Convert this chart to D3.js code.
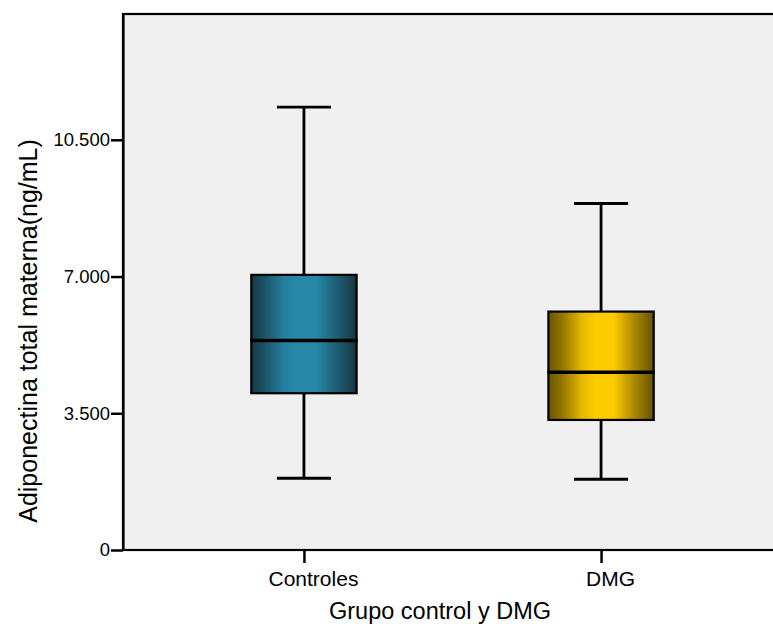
<!DOCTYPE html>
<html>
<head>
<meta charset="utf-8">
<script src="https://cdn.jsdelivr.net/npm/d3@7"></script>
<style>
html,body{margin:0;padding:0;background:#fff;}
svg{display:block;font-family:Arial,"Liberation Sans",sans-serif;}
</style>
</head>
<body>
<svg id="chart" width="773" height="624"></svg>
<script>
// Data
const categories = ["Controles", "DMG"];
const whiskerLow  = [1836, 1811];
const q1          = [4013, 3329];
const median      = [5360, 4551];
const q3          = [7043, 6103];
const whiskerHigh = [11337, 8869];
const yTicks = [0, 3500, 7000, 10500];
const yTickLabels = ["0", "3.500", "7.000", "10.500"];
const xTitle = "Grupo control y DMG";
const yTitle = "Adiponectina total materna(ng/mL)";

const svg = d3.select("#chart");
const pL = 123, pR = 782, pT = 14, pB = 550;

const x = d3.scalePoint().domain(categories).range([pL, pR]).padding(0.609);
const y = d3.scaleLinear().domain([0, 13720]).range([pB, pT]);
const step = x.step();
const boxW = step * 0.3545;
const capW = step * 0.182;

// gradients
const defs = svg.append("defs");
const gradStops = [
  [["0%","#163b48"],["12%","#1c5366"],["32%","#2482a1"],["45%","#2789a9"],["62%","#2687a7"],["80%","#1f6178"],["100%","#153640"]],
  [["0%","#6a5500"],["12%","#8f7200"],["32%","#e6b800"],["45%","#ffcc00"],["62%","#fdca00"],["80%","#b08c00"],["100%","#665200"]]
];
gradStops.forEach((stops, i) => {
  const g = defs.append("linearGradient").attr("id", "g" + i)
    .attr("x1", "0%").attr("x2", "100%").attr("y1", "0%").attr("y2", "0%");
  stops.forEach(s => g.append("stop").attr("offset", s[0]).attr("stop-color", s[1]));
});

// plot background
svg.append("rect").attr("x", pL).attr("y", pT)
  .attr("width", pR - pL).attr("height", pB - pT)
  .attr("fill", "#f0f0f0").attr("stroke", "#000").attr("stroke-width", 2.2);

// y axis
const yAxis = d3.axisLeft(y).tickValues(yTicks)
  .tickFormat((d, i) => yTickLabels[i]).tickSizeInner(12).tickSizeOuter(0).tickPadding(1);
const ga = svg.append("g").attr("transform", `translate(${pL},0)`).call(yAxis);
ga.select(".domain").attr("stroke", "#000").attr("stroke-width", 2.2);
ga.selectAll(".tick line").attr("stroke", "#000").attr("stroke-width", 2.5);
ga.selectAll(".tick text").attr("font-size", 18.5).attr("fill", "#000")
  .attr("font-family", "Arial, 'Liberation Sans', sans-serif");

// x axis
const xAxis = d3.axisBottom(x).tickSizeInner(13).tickSizeOuter(0).tickPadding(8);
const gx = svg.append("g").attr("transform", `translate(0,${pB})`).call(xAxis);
gx.select(".domain").attr("stroke", "#000").attr("stroke-width", 2.2)
  .attr("d", `M${pL},0H${pR}`);
gx.selectAll(".tick line").attr("stroke", "#000").attr("stroke-width", 2.5);
gx.selectAll(".tick text").attr("font-size", 21).attr("fill", "#000").attr("dx", 9)
  .attr("font-family", "Arial, 'Liberation Sans', sans-serif");

// boxes
categories.forEach((c, i) => {
  const cx = x(c);
  const g = svg.append("g");
  g.append("line").attr("x1", cx).attr("x2", cx)
    .attr("y1", y(whiskerHigh[i])).attr("y2", y(q3[i]))
    .attr("stroke", "#000").attr("stroke-width", 2.8);
  g.append("line").attr("x1", cx).attr("x2", cx)
    .attr("y1", y(q1[i])).attr("y2", y(whiskerLow[i]))
    .attr("stroke", "#000").attr("stroke-width", 2.8);
  [whiskerHigh[i], whiskerLow[i]].forEach(v => {
    g.append("line").attr("x1", cx - capW / 2).attr("x2", cx + capW / 2)
      .attr("y1", y(v)).attr("y2", y(v))
      .attr("stroke", "#000").attr("stroke-width", 2.8);
  });
  g.append("rect").attr("x", cx - boxW / 2).attr("y", y(q3[i]))
    .attr("width", boxW).attr("height", y(q1[i]) - y(q3[i]))
    .attr("fill", `url(#g${i})`).attr("stroke", "#000").attr("stroke-width", 2.2);
  g.append("line").attr("x1", cx - boxW / 2 - 1).attr("x2", cx + boxW / 2 + 1)
    .attr("y1", y(median[i])).attr("y2", y(median[i]))
    .attr("stroke", "#000").attr("stroke-width", 3.5);
});

// axis titles
svg.append("text").attr("x", 440).attr("y", 619).attr("text-anchor", "middle")
  .attr("font-size", 23.5).attr("fill", "#000").text(xTitle);
svg.append("text").attr("transform", `translate(37,331) rotate(-90)`)
  .attr("text-anchor", "middle").attr("font-size", 25).attr("fill", "#000").text(yTitle);
</script>
</body>
</html>
